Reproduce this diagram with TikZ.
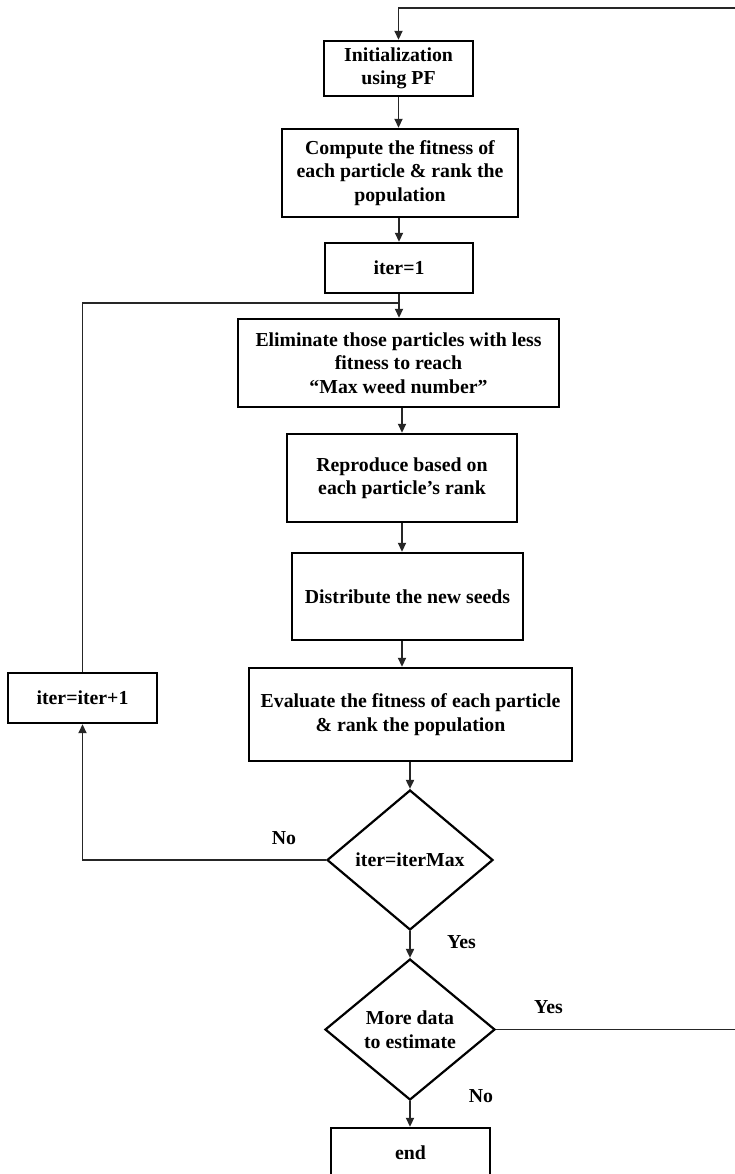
\documentclass[tikz,border=0pt]{standalone}
\usepackage{fontspec}
\setmainfont{Liberation Serif}
\usetikzlibrary{shapes.geometric,arrows.meta}
\begin{document}
\begin{tikzpicture}[x=1pt,y=-1pt,
  font=\fontsize{19.8}{23.5}\selectfont\bfseries,
  box/.style={draw, line width=2.4pt, align=center, inner sep=0pt},
  decision/.style={draw, diamond, aspect=1.2, line width=2.2pt, align=center, inner sep=0pt},
  link/.style={line width=1.8pt, draw=black!85},
  arr/.style={link, -{Triangle[length=9pt,width=8pt]}},
  lbl/.style={inner sep=0pt}]
\useasboundingbox (0,0) rectangle (735,1174);

% process boxes
\node[box, minimum width=149pt, minimum height=55pt] (init)  at (398.5,68.5) {Initialization\\using PF};
\node[box, minimum width=236pt, minimum height=88pt] (rank)  at (400,173) {Compute the fitness of\\each particle \& rank the\\population};
\node[box, minimum width=148pt, minimum height=50pt] (iter1) at (399,268) {iter=1};
\node[box, minimum width=321pt, minimum height=88pt] (elim)  at (398.5,363) {Eliminate those particles with less\\fitness to reach\\``Max weed number''};
\node[box, minimum width=230pt, minimum height=88pt] (repro) at (402,478) {Reproduce based on\\each particle's rank};
\node[box, minimum width=231pt, minimum height=87pt] (dist)  at (407.5,596.5) {Distribute the new seeds};
\node[box, minimum width=323pt, minimum height=93pt] (eval)  at (410.5,714.5) {Evaluate the fitness of each particle\\\& rank the population};
\node[box, minimum width=149pt, minimum height=50pt] (inc)   at (82.5,698) {iter=iter+1};

% decisions
\node[decision, minimum width=166pt, minimum height=140pt] (dec1) at (410,860) {iter=iterMax};
\node[decision, minimum width=170pt, minimum height=141pt] (dec2) at (410,1029.5) {More data\\to estimate};

\node[box, minimum width=159pt, minimum height=50pt] (stop) at (410.5,1153) {end};

% main flow
\draw[arr] (init.south) -- (init.south |- rank.north);
\draw[arr] (rank.south -| iter1) -- (iter1.north);
\draw[arr] (iter1.south) -- (iter1.south |- elim.north);
\draw[arr] (repro.north |- elim.south) -- (repro.north);
\draw[arr] (repro.south) -- (repro.south |- dist.north);
\draw[arr] (dist.south -| repro) -- (eval.north -| repro);
\draw[arr] (eval.south -| dec1) -- (dec1.north);
\draw[arr] (dec1.south) -- (dec2.north);
\draw[arr] (dec2.south) -- (dec2.south |- stop.north);

% iteration loop
\coordinate (join) at (399,303);
\draw[link] (inc.north) |- (join);
\draw[arr] (dec1.west) -| (inc.south);

% return for more data
\coordinate (rtop) at (745,8);
\draw[arr] (dec2.east) -- (dec2.east -| rtop) -- (rtop) -- (rtop -| init.north) -- (init.north);

% branch labels
\node[lbl] (no1)  at (284,838)   {No};
\node[lbl] (yes1) at (461.5,942) {Yes};
\node[lbl] (yes2) at (548.5,1007) {Yes};
\node[lbl] (no2)  at (481,1096)  {No};
\end{tikzpicture}
\end{document}
